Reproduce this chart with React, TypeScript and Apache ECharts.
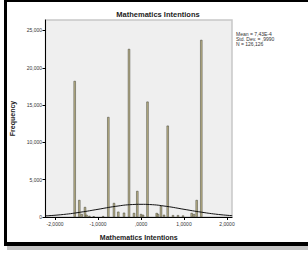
import React, { useEffect, useRef } from "react";
import * as echarts from "echarts";

// Histogram bins (bin centre on the x scale, frequency)
const binCenters = [
  -1.542, -1.435, -1.379, -1.302, -1.267, -1.2, -1.1, -0.88, -0.76, -0.628, -0.528, -0.395,
  -0.279, -0.163, -0.086, 0.0, 0.047, 0.151, 0.365, 0.395, 0.465, 0.535, 0.621, 0.744,
  0.86, 0.977, 1.179, 1.233, 1.295, 1.402,
];
const frequencies = [
  18230, 2280, 400, 1340, 300, 150, 100, 120, 13400, 1880, 710, 580,
  22520, 540, 3490, 400, 300, 15460, 540, 400, 1470, 300, 12240, 250,
  250, 200, 540, 400, 2280, 23730,
];

// Normal curve
const curveX = [-2.22, -1.8, -1.4, -1.0, -0.6, -0.2, 0.0, 0.2, 0.6, 1.0, 1.4, 1.8, 2.12];
const curveY = [150, 340, 650, 1030, 1420, 1670, 1700, 1670, 1420, 1030, 650, 340, 180];

const xTicks = [-2, -1, 0, 1, 2];
const yTicks = [0, 5000, 10000, 15000, 20000, 25000];

const statLines = ["Mean = 7,43E-4", "Std. Dev. = ,9990", "N = 126,126"];
const titleText = "Mathematics Intentions";
const xName = "Mathematics Intentions";
const yName = "Frequency";

const FONT = "'Liberation Sans', Arial, sans-serif";

export default function App() {
  const ref = useRef<HTMLDivElement>(null);
  useEffect(() => {
    if (!ref.current) return;
    const chart = echarts.init(ref.current, null, { renderer: "svg" });
    const fmtX = (v: number) => {
      if (v === 0) return ",0000";
      return v.toFixed(4).replace(".", ",");
    };
    chart.setOption({
      animation: false,
      backgroundColor: "#ffffff",
      textStyle: { fontFamily: FONT },
      grid: {
        left: 45.5,
        right: 76,
        top: 20,
        bottom: 36,
        show: true,
        backgroundColor: "#efefef",
        borderColor: "#c8c8c8",
        borderWidth: 1.5,
      },
      xAxis: {
        type: "value",
        min: -2.221,
        max: 2.116,
        name: xName,
        nameLocation: "middle",
        nameGap: 17,
        nameTextStyle: { fontSize: 7, fontWeight: "bold", color: "#222", fontFamily: FONT },
        axisLine: { show: true, onZero: false, lineStyle: { color: "#000", width: 1 } },
        axisTick: { show: true, length: 3, customValues: xTicks, lineStyle: { color: "#000" } },
        axisLabel: {
          customValues: xTicks,
          formatter: fmtX,
          fontSize: 5,
          color: "#333",
          margin: 4,
          fontFamily: FONT,
        },
        splitLine: { show: false },
      },
      yAxis: {
        type: "value",
        min: 0,
        max: 26400,
        name: yName,
        nameLocation: "middle",
        nameGap: 28,
        nameRotate: 90,
        nameTextStyle: { fontSize: 7, fontWeight: "bold", color: "#222", fontFamily: FONT },
        axisLine: { show: true, onZero: false, lineStyle: { color: "#000", width: 1 } },
        axisTick: { show: true, length: 3, customValues: yTicks, lineStyle: { color: "#000" } },
        axisLabel: {
          customValues: yTicks,
          formatter: (v: number) => v.toLocaleString("en-US"),
          fontSize: 5,
          color: "#333",
          margin: 3.5,
          fontFamily: FONT,
        },
        splitLine: { show: false },
      },
      series: [
        {
          type: "bar",
          data: binCenters.map((x, i) => [x, frequencies[i]]),
          barWidth: 2.2,
          itemStyle: { color: "#bdb48a", borderColor: "#3c3c30", borderWidth: 0.5 },
        },
        {
          type: "line",
          data: curveX.map((x, i) => [x, curveY[i]]),
          smooth: true,
          symbol: "none",
          lineStyle: { color: "#111", width: 1 },
        },
      ],
      graphic: [
        { type: "rect", shape: { x: 4, y: 0, width: 304, height: 2 }, style: { fill: "#000" } },
        { type: "rect", shape: { x: 4, y: 0, width: 3, height: 246 }, style: { fill: "#000" } },
        { type: "rect", shape: { x: 4, y: 242, width: 304, height: 4 }, style: { fill: "#000" } },
        { type: "rect", shape: { x: 7, y: 246, width: 301, height: 4 }, style: { fill: "#c4c4c4" } },
        {
          type: "text",
          x: 158,
          y: 14,
          style: {
            text: titleText,
            fontSize: 7.5,
            fontWeight: "bold",
            fill: "#222",
            align: "center",
            verticalAlign: "middle",
            fontFamily: FONT,
          },
        },
        {
          type: "text",
          x: 236,
          y: 31,
          style: {
            text: statLines.join("\n"),
            fontSize: 5,
            lineHeight: 5,
            fill: "#333",
            align: "left",
            verticalAlign: "top",
            fontFamily: FONT,
          },
        },
      ],
    });
    return () => chart.dispose();
  }, []);
  return (
    <div
      ref={ref}
      style={{ position: "fixed", left: 0, top: 0, width: 308, height: 253, background: "#fff" }}
    />
  );
}
